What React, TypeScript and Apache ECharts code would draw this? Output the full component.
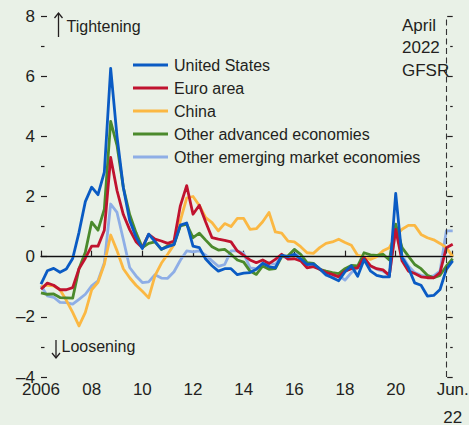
import React, { useEffect, useRef } from "react";
import * as echarts from "echarts";

// Quarterly observations, 2006:Q1 to 2022:Q2 (percent / standard deviations)
const START_YEAR = 2006;
const QUARTERS_PER_YEAR = 4;
const GFSR_CUTOFF = 2022.0;
const X_MIN = 2006;
const X_MAX = 2022.25;
const Y_MIN = -4;
const Y_MAX = 8;
const Y_STEP = 2;
const X_TICKS = [2006, 2008, 2010, 2012, 2014, 2016, 2018, 2020, 2022.25];
const X_TICK_LABELS = ["2006", "08", "10", "12", "14", "16", "18", "20", "Jun.\n22"];

const unitedStates = [
  -0.91, -0.47, -0.39, -0.52, -0.41, -0.06, 0.81, 1.83, 2.31, 2.06, 2.81, 6.26, 4.0, 2.3,
  1.2, 0.65, 0.27, 0.75, 0.5, 0.25, 0.33, 0.4, 1.05, 1.12, 0.35, 0.3, -0.08,
  -0.3, -0.48, -0.4, -0.4, -0.6, -0.55, -0.53, -0.42, -0.22, -0.33, -0.37, 0.04, 0.0,
  0.08, -0.07, -0.26, -0.24, -0.4, -0.6, -0.7, -0.8, -0.5, -0.3, -0.65, -0.1,
  -0.47, -0.62, -0.67, -0.67, 2.1, -0.03, -0.37, -0.87, -0.95, -1.31, -1.29, -1.09, -0.42, -0.14,
];
const euroArea = [
  -1.08, -0.88, -0.95, -1.1, -1.1, -1.03, -0.4, -0.05, 0.35, 0.35, 0.88, 3.3,
  2.2, 1.4, 0.9, 0.5, 0.3, 0.74, 0.58, 0.52, 0.44, 0.52, 1.69, 2.36, 1.41, 1.71, 1.15,
  0.63, 0.58, 0.54, 0.49, 0.19, 0.04, -0.11, -0.2, -0.11, -0.23, -0.09, 0.08, -0.08,
  -0.07, -0.14, -0.37, -0.33, -0.42, -0.53, -0.59, -0.67, -0.48, -0.4, -0.37, -0.03,
  -0.3, -0.4, -0.44, -0.62, 0.91, -0.14, -0.48, -0.56, -0.67, -0.7, -0.7, -0.53, 0.3, 0.41,
];
const china = [
  -1.0, -0.95, -0.97, -1.1, -1.45, -1.85, -2.3, -1.85, -1.1, -0.85, -0.25, 0.72, 0.2, -0.4,
  -0.7, -0.95, -1.15, -1.37, -0.63, -0.22, 0.08, 0.4, 1.2, 1.95, 2.0, 1.7, 1.3,
  1.13, 0.86, 1.1, 1.0, 1.27, 1.27, 0.91, 0.93, 1.16, 1.47, 0.82, 0.78, 0.52,
  0.49, 0.33, 0.13, 0.11, 0.3, 0.44, 0.49, 0.58, 0.47, 0.38, 0.04, 0.0,
  -0.09, 0.0, 0.2, 0.3, 0.69, 0.91, 1.04, 1.04, 0.74, 0.63, 0.56, 0.44, 0.3, 0.0,
];
const otherAdvanced = [
  -1.2, -1.25, -1.24, -1.36, -1.37, -1.38, -0.4, 0.15, 1.15, 0.88, 1.58, 4.5,
  3.7, 2.3, 1.4, 0.8, 0.3, 0.44, 0.49, 0.24, 0.36, 0.41, 1.02, 1.08, 0.63, 0.78, 0.55,
  0.33, 0.22, 0.24, 0.08, -0.11, -0.18, -0.48, -0.59, -0.31, -0.42, -0.4, 0.0, 0.03,
  0.24, 0.08, -0.2, -0.22, -0.42, -0.48, -0.53, -0.56, -0.4, -0.29, -0.31, 0.13,
  0.06, 0.04, 0.08, -0.11, 1.08, 0.3, 0.02, -0.26, -0.4, -0.62, -0.7, -0.62, -0.31, -0.07,
];
const otherEmerging = [
  -0.97, -1.3, -1.35, -1.52, -1.53, -1.58, -1.42, -1.25, -0.97, -0.8, -0.2, 1.75, 1.47, 0.57,
  -0.36, -0.64, -0.86, -0.84, -0.6, -0.71, -0.72, -0.5, -0.12, 0.19, 0.16, 0.19, 0.05,
  -0.14, -0.32, -0.26, 0.19, 0.19, 0.11, -0.37, -0.4, -0.26, -0.2, -0.26, 0.0, -0.02,
  0.24, 0.0, -0.26, -0.26, -0.42, -0.62, -0.67, -0.62, -0.78, -0.53, -0.37, -0.11,
  -0.31, -0.42, -0.48, -0.62, 0.9, 0.04, -0.31, -0.53, -0.62, -0.67, -0.64, -0.48, 0.86, 0.86,
];

const SERIES_NAMES = [
  "United States",
  "Euro area",
  "China",
  "Other advanced economies",
  "Other emerging market economies",
];
const SERIES_VALUES = [unitedStates, euroArea, china, otherAdvanced, otherEmerging];
const SERIES_COLORS = ["#0a5bc4", "#c0132f", "#fbb843", "#4b8a2c", "#8eaee6"];
const DRAW_ORDER = [4, 2, 3, 1, 0];

const FONT = '"Liberation Sans", Arial, sans-serif';
const INK = "#231f20";
const BG = "#e9f1e7";

function toPoints(values: number[]) {
  return values.map((v, i) => [START_YEAR + i / QUARTERS_PER_YEAR, v]);
}

export default function App() {
  const ref = useRef<HTMLDivElement>(null);

  useEffect(() => {
    document.body.style.margin = "0";
    if (!ref.current) return;
    const chart = echarts.init(ref.current, null, { renderer: "svg" });

    const lineSeries = DRAW_ORDER.map((k) => ({
      type: "line",
      name: SERIES_NAMES[k],
      data: toPoints(SERIES_VALUES[k]),
      showSymbol: false,
      symbol: "none",
      color: SERIES_COLORS[k],
      itemStyle: { color: SERIES_COLORS[k] },
      lineStyle: { color: SERIES_COLORS[k], width: 2.8, join: "round" },
      z: 3,
      silent: true,
    }));

    const option: any = {
      animation: false,
      backgroundColor: BG,
      textStyle: { fontFamily: FONT },
      grid: {
        left: 41,
        right: 16.3,
        top: 16,
        bottom: 48,
        containLabel: false,
        outerBoundsMode: "none",
      },
      legend: {
        data: SERIES_NAMES,
        orient: "vertical",
        left: 133,
        top: 54,
        padding: 0,
        itemGap: 1,
        itemWidth: 35,
        itemHeight: 3,
        icon: "rect",
        selectedMode: false,
        textStyle: {
          fontFamily: FONT,
          fontSize: 16,
          color: INK,
          lineHeight: 14,
          padding: [8, 0, 0, 1],
        },
      },
      xAxis: {
        type: "value",
        min: X_MIN,
        max: X_MAX,
        splitLine: { show: false },
        axisLine: { show: true, lineStyle: { color: INK, width: 1.3 } },
        axisTick: {
          show: true,
          inside: true,
          length: 6,
          customValues: X_TICKS,
          lineStyle: { color: INK, width: 1.2 },
        },
        axisLabel: {
          customValues: X_TICKS,
          margin: -2,
          fontSize: 17,
          lineHeight: 28,
          color: INK,
          fontFamily: FONT,
          formatter: (v: number) => {
            const idx = X_TICKS.findIndex((t) => Math.abs(t - v) < 1e-6);
            return idx >= 0 ? X_TICK_LABELS[idx] : "";
          },
        },
      },
      yAxis: [
        {
          type: "value",
          position: "left",
          min: Y_MIN,
          max: Y_MAX,
          interval: Y_STEP,
          splitLine: { show: false },
          axisLine: { show: false },
          axisTick: { show: true, inside: true, length: 6, lineStyle: { color: INK, width: 1.2 } },
          minorTick: { show: true, splitNumber: 2, length: 3.5, lineStyle: { color: INK, width: 1.2 } },
          axisLabel: {
            margin: 6,
            fontSize: 17,
            color: INK,
            fontFamily: FONT,
            formatter: (v: number) => (v < 0 ? "\u2013" + Math.abs(v) : String(v)),
          },
        },
        {
          type: "value",
          position: "right",
          min: Y_MIN,
          max: Y_MAX,
          interval: Y_STEP,
          splitLine: { show: false },
          axisLine: { show: false },
          axisTick: { show: true, inside: true, length: 5.5, lineStyle: { color: INK, width: 1.2 } },
          minorTick: { show: true, splitNumber: 2, length: 2.5, lineStyle: { color: INK, width: 1.2 } },
          axisLabel: { show: false },
        },
      ],
      series: [
        {
          type: "line",
          name: "_ref",
          data: [],
          z: 1,
          silent: true,
          markLine: {
            silent: true,
            symbol: "none",
            label: { show: false },
            data: [
              { yAxis: 0, lineStyle: { color: "#111", width: 1.2, type: "solid" } },
              { xAxis: GFSR_CUTOFF, lineStyle: { color: "#333", width: 1.1, type: [6, 3.5] } },
            ],
          },
        },
        ...lineSeries,
      ],
      graphic: [
        { type: "line", shape: { x1: 58.5, y1: 13, x2: 58.5, y2: 37 }, style: { stroke: INK, lineWidth: 1.3 } },
        { type: "polyline", shape: { points: [[54.5, 18], [58.5, 13], [62.5, 18]] }, style: { stroke: INK, lineWidth: 1.3, fill: null } },
        { type: "text", x: 66.5, y: 26, style: { text: "Tightening", font: `16px ${FONT}`, fill: INK, verticalAlign: "middle" } },
        { type: "line", shape: { x1: 56, y1: 340, x2: 56, y2: 358 }, style: { stroke: INK, lineWidth: 1.3 } },
        { type: "polyline", shape: { points: [[52, 353], [56, 358], [60, 353]] }, style: { stroke: INK, lineWidth: 1.3, fill: null } },
        { type: "text", x: 61.5, y: 346.5, style: { text: "Loosening", font: `16px ${FONT}`, fill: INK, verticalAlign: "middle" } },
        {
          type: "text",
          x: 402,
          y: 14.5,
          style: { text: "April\n2022\nGFSR", font: `17px ${FONT}`, fill: INK, verticalAlign: "top", lineHeight: 22.3 },
        },
      ],
    };

    chart.setOption(option);
    return () => chart.dispose();
  }, []);

  return <div ref={ref} style={{ width: 469, height: 425 }} />;
}
